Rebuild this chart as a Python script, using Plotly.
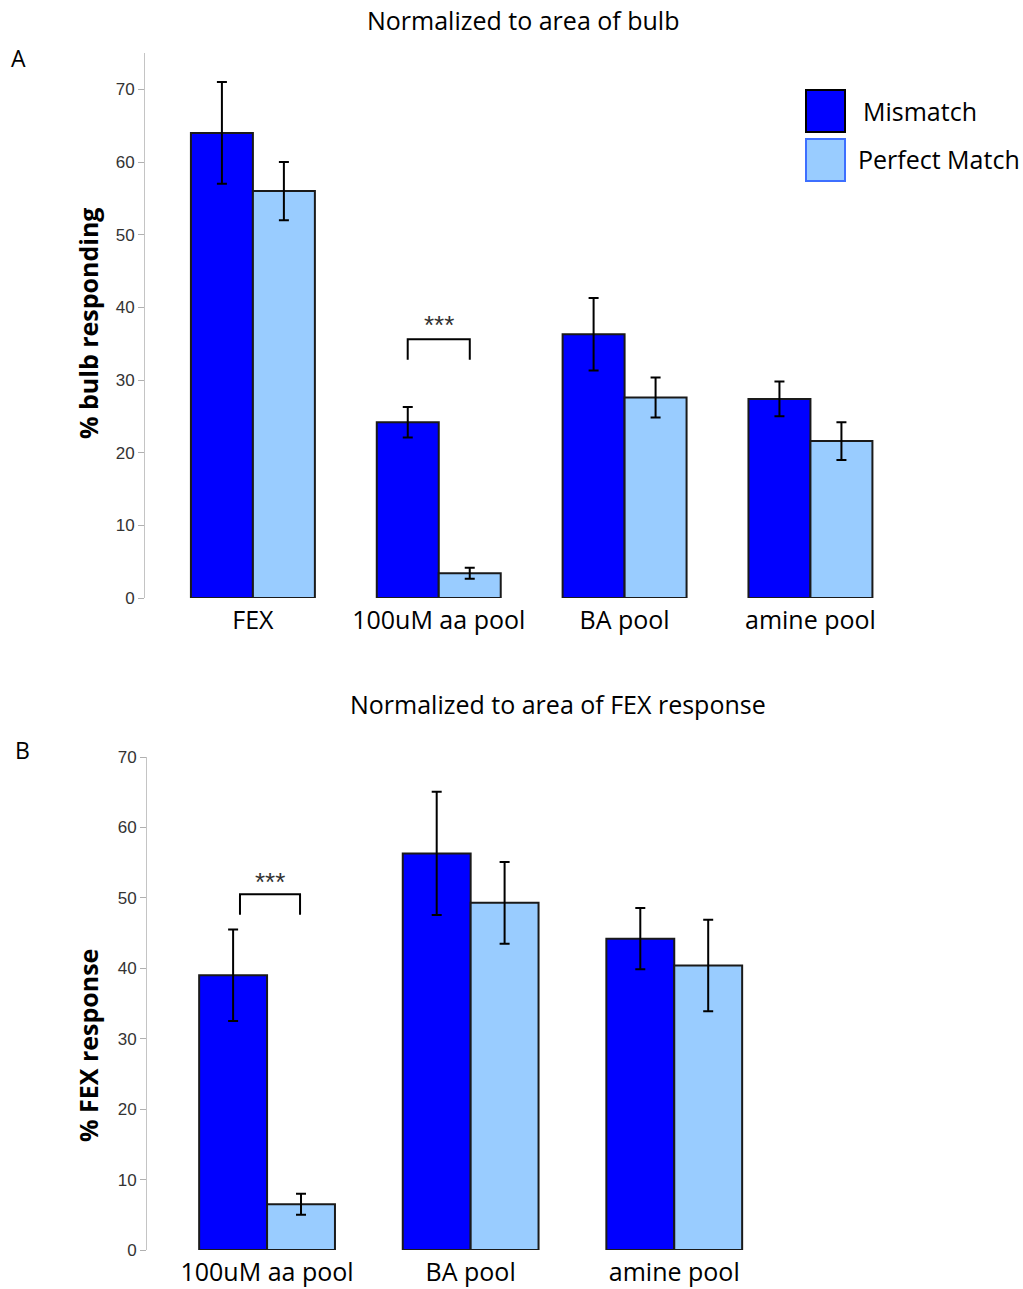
import plotly.graph_objects as go

# ---- data -------------------------------------------------------------
categories_a = ["FEX", "100uM aa pool", "BA pool", "amine pool"]
mismatch_a = [64.0, 24.2, 36.3, 27.4]
mismatch_a_err = [7.0, 2.1, 5.0, 2.4]
perfect_a = [56.0, 3.4, 27.6, 21.6]
perfect_a_err = [4.0, 0.75, 2.75, 2.6]

categories_b = ["100uM aa pool", "BA pool", "amine pool"]
mismatch_b = [39.0, 56.3, 44.2]
mismatch_b_err = [6.5, 8.75, 4.35]
perfect_b = [6.5, 49.3, 40.4]
perfect_b_err = [1.5, 5.8, 6.5]

y_ticks = [0, 10, 20, 30, 40, 50, 60, 70]

# ---- page geometry helpers ---------------------------------------------
W, H = 1023, 1289


def px(x):
    return x / W


def py(y):
    return 1 - y / H


MISMATCH = "#0000ff"
PERFECT = "#99ccff"
EDGE = "#1a1a1a"
TEXT_FONT = "Open Sans"
NUM_FONT = "Liberation Sans"

fig = go.Figure()


def add_pair(cats, mm, mm_err, pm, pm_err, xa, ya):
    fig.add_trace(go.Bar(
        x=cats, y=mm, name="Mismatch", xaxis=xa, yaxis=ya,
        marker=dict(color=MISMATCH, line=dict(color=EDGE, width=2)),
        error_y=dict(type="data", array=mm_err, color="black", thickness=2, width=5),
        showlegend=False,
    ))
    fig.add_trace(go.Bar(
        x=cats, y=pm, name="Perfect Match", xaxis=xa, yaxis=ya,
        marker=dict(color=PERFECT, line=dict(color=EDGE, width=2)),
        error_y=dict(type="data", array=pm_err, color="black", thickness=2, width=5),
        showlegend=False,
    ))


add_pair(categories_a, mismatch_a, mismatch_a_err, perfect_a, perfect_a_err, "x", "y")
add_pair(categories_b, mismatch_b, mismatch_b_err, perfect_b, perfect_b_err, "x2", "y2")

yaxis_style = dict(
    tickmode="array", tickvals=y_ticks,
    ticks="outside", ticklen=6, tickcolor="#b0b0b0", tickwidth=1,
    showline=True, linecolor="#c4c4c4", linewidth=1,
    showgrid=False, zeroline=False, automargin=False,
    tickfont=dict(family=NUM_FONT, size=17, color="#333333"),
)
xaxis_style = dict(
    showline=False, showgrid=False, zeroline=False, ticks="", automargin=False,
    ticklabelstandoff=5,
    tickfont=dict(family=TEXT_FONT, size=25, color="black"),
)

fig.update_layout(
    width=W, height=H,
    margin=dict(l=0, r=0, t=0, b=0, autoexpand=False),
    paper_bgcolor="white", plot_bgcolor="white",
    barmode="group", bargap=0.333, bargroupgap=0,
    showlegend=False,
    xaxis=dict(domain=[px(145), px(1000)], range=[-0.5806, 4.02],
               anchor="y", **xaxis_style),
    yaxis=dict(domain=[py(598), py(53)], range=[0, 75], anchor="x", **yaxis_style),
    xaxis2=dict(domain=[px(147), px(1000)], range=[-0.5897, 3.60],
                anchor="y2", **xaxis_style),
    yaxis2=dict(domain=[py(1250), py(757)], range=[0, 70], anchor="x2", **yaxis_style),
)


def label(x, y, text, size, xanchor="center", yanchor="middle", angle=0,
          family=TEXT_FONT, color="black"):
    fig.add_annotation(x=x, y=y, xref="paper", yref="paper", text=text,
                       showarrow=False, xanchor=xanchor, yanchor=yanchor,
                       textangle=angle,
                       font=dict(family=family, size=size, color=color))


# y-axis titles
label(px(88), py(323), "<b>% bulb responding</b>", 25, angle=-90)
label(px(88), py(1046), "<b>% FEX response</b>", 25, angle=-90)

# significance brackets (data coordinates)
bracket = dict(color="black", width=2)
fig.add_shape(type="path", xref="x", yref="y",
              path="M 0.833 32.8 L 0.833 35.6 L 1.167 35.6 L 1.167 32.8",
              line=bracket)
fig.add_annotation(x=1.0, y=37.6, xref="x", yref="y", text="***",
                   showarrow=False, yanchor="middle",
                   font=dict(family=NUM_FONT, size=26, color="#333333"))
fig.add_shape(type="path", xref="x2", yref="y2",
              path="M -0.133 47.6 L -0.133 50.5 L 0.162 50.5 L 0.162 47.6",
              line=bracket)
fig.add_annotation(x=0.015, y=52.2, xref="x2", yref="y2", text="***",
                   showarrow=False, yanchor="middle",
                   font=dict(family=NUM_FONT, size=26, color="#333333"))

# panel titles and letters
label(px(523), py(20), "Normalized to area of bulb", 25)
label(px(558), py(704), "Normalized to area of FEX response", 25)
label(px(18), py(58), "A", 23)
label(px(22), py(750), "B", 23)

# legend swatches
fig.add_shape(type="rect", xref="paper", yref="paper",
              x0=px(806), x1=px(845), y0=py(132), y1=py(90),
              fillcolor=MISMATCH, line=dict(color="black", width=2))
fig.add_shape(type="rect", xref="paper", yref="paper",
              x0=px(806), x1=px(845), y0=py(181), y1=py(139),
              fillcolor=PERFECT, line=dict(color="#3d6fff", width=2))
label(px(861), py(111), "Mismatch", 25, xanchor="left")
label(px(856), py(159), "Perfect Match", 25, xanchor="left")

fig.write_html("out.html")
